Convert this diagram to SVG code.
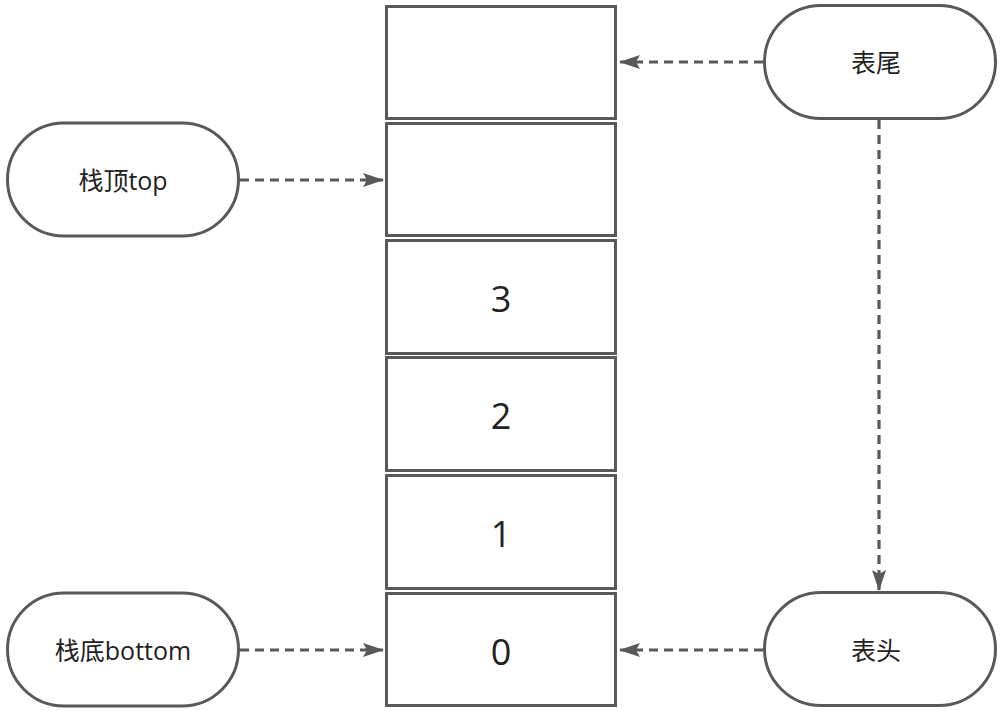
<svg xmlns="http://www.w3.org/2000/svg" width="1006" height="711" viewBox="0 0 1006 711">
<style>
.box{fill:#fff;stroke:#595959;stroke-width:3}
.term{fill:#fff;stroke:#595959;stroke-width:3}
.lbl{font-family:"Open Sans","Noto Sans CJK SC",sans-serif;font-size:25px;fill:#222;text-anchor:middle;dominant-baseline:central}
.num{font-family:"Open Sans","Noto Sans CJK SC",sans-serif;font-size:36px;fill:#222;text-anchor:middle;dominant-baseline:central}
.edge{fill:none;stroke:#595959;stroke-width:3.2;stroke-dasharray:9 6}
</style>
<defs>
<marker id="ah2" markerWidth="22" markerHeight="16" refX="20" refY="8" orient="auto" markerUnits="userSpaceOnUse" viewBox="0 0 22 16">
<path d="M0,1 L21,8 L0,15 L4,8 Z" fill="#595959"/>
</marker>
</defs>
<rect width="1006" height="711" fill="#fff"/>
<g id="cell5"><rect class="box" x="386.5" y="6.5" width="229" height="112"/></g>
<g id="cell4"><rect class="box" x="386.5" y="123.5" width="229" height="112"/></g>
<g id="cell3"><rect class="box" x="386.5" y="240.5" width="229" height="113"/><text class="num" x="501" y="298">3</text></g>
<g id="cell2"><rect class="box" x="386.5" y="357.5" width="229" height="113"/><text class="num" x="501" y="415">2</text></g>
<g id="cell1"><rect class="box" x="386.5" y="475.5" width="229" height="113"/><text class="num" x="501" y="533">1</text></g>
<g id="cell0"><rect class="box" x="386.5" y="593.5" width="229" height="112"/><text class="num" x="501" y="651">0</text></g>
<g id="top"><rect class="term" x="7.5" y="123" width="231" height="113" rx="56.5"/><text class="lbl" x="123" y="180">栈顶top</text></g>
<g id="bottom"><rect class="term" x="7.5" y="593" width="231" height="113" rx="56.5"/><text class="lbl" x="123" y="650">栈底bottom</text></g>
<g id="tail"><rect class="term" x="764.5" y="5.5" width="231" height="113" rx="56.5"/><text class="lbl" x="876" y="62">表尾</text></g>
<g id="head"><rect class="term" x="764.5" y="592.5" width="231" height="113" rx="56.5"/><text class="lbl" x="876" y="650">表头</text></g>
<g id="connectors">
<path class="edge" d="M763,62 L620,62" marker-end="url(#ah2)"/>
<path class="edge" d="M240,180 L383,180" marker-end="url(#ah2)"/>
<path class="edge" d="M240,650 L383,650" marker-end="url(#ah2)"/>
<path class="edge" d="M763,650 L620,650" marker-end="url(#ah2)"/>
<path class="edge" d="M879,120 L879,590" marker-end="url(#ah2)"/>
</g>
</svg>
